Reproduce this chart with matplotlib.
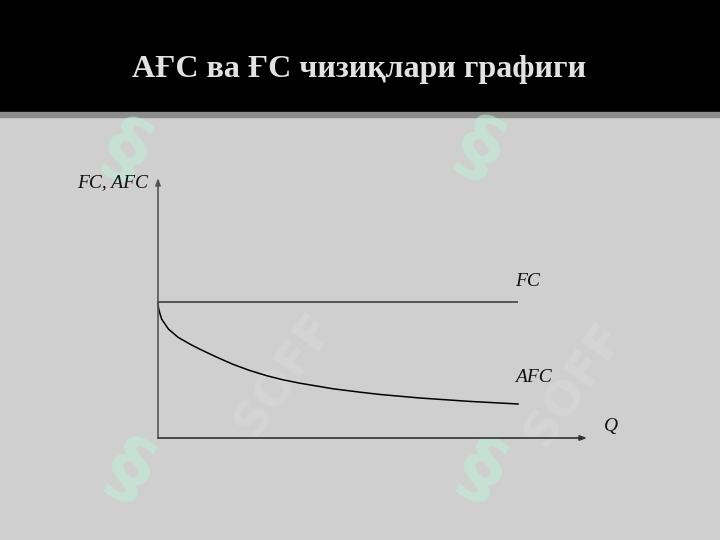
import matplotlib.pyplot as plt

# AFC / FC diagram values (Q units, cost units)
q_fc = [0, 10]
fc = [10, 10]
q_afc = [0, 0.008, 0.03, 0.10, 0.29, 0.56, 0.89, 1.17, 1.61, 2.08, 2.53, 3.02,
         3.47, 3.94, 4.86, 5.61, 6.17, 7.28, 8.67, 10]
afc = [10, 9.67, 9.36, 8.75, 8.01, 7.40, 6.90, 6.52, 5.97, 5.42, 4.98, 4.58,
       4.28, 4.03, 3.62, 3.37, 3.20, 2.94, 2.69, 2.50]

title = "АҒС ва ҒС чизиқлари графиги"
ylabel = "FC, AFC"
xlabel = "Q"

W, H = 720, 540
fig = plt.figure(figsize=(7.2, 5.4), dpi=100)
fig.patch.set_facecolor("#cfcfcf")

# background layer in pixel coordinates
bg = fig.add_axes([0, 0, 1, 1])
bg.set_xlim(0, W)
bg.set_ylim(H, 0)
bg.axis("off")
bg.add_patch(plt.Rectangle((0, 0), W, 112, color="black", zorder=1))
bg.add_patch(plt.Rectangle((0, 112), W, 5, color="#8c8c8c", zorder=1))
bg.text(359, 70, title, color="#e2e2e2", fontsize=23, fontweight="bold",
        family="Liberation Serif", ha="center", va="center", zorder=3)

# faint watermarks
for x, y in [(125, 152), (478, 150), (128, 472), (480, 472)]:
    bg.text(x, y, "§", color="#bff0da", alpha=0.55, fontsize=58, fontweight="bold",
            family="DejaVu Sans", ha="center", va="center", rotation=-25, zorder=2)
for x, y in [(285, 375), (575, 385)]:
    bg.text(x, y, "SOFF", color="white", alpha=0.12, fontsize=34, fontweight="bold",
            family="DejaVu Sans", ha="center", va="center", rotation=55, zorder=2)

# chart axes: x 158..587 px, y 180..438 px
ux, uy = 36.0, 13.6
x0, y0 = 158, 438
ax = fig.add_axes([x0 / W, 1 - y0 / H, (587 - x0) / W, (y0 - 180) / H])
ax.set_xlim(0, (587 - x0) / ux)
ax.set_ylim(0, (y0 - 180) / uy)
ax.axis("off")
ax.patch.set_alpha(0)

xmax = (587 - x0) / ux
ymax = (y0 - 178) / uy
ax.annotate("", xy=(0, ymax), xytext=(0, 0),
            arrowprops=dict(arrowstyle="-|>,head_length=0.4,head_width=0.15",
                            color="#555555", lw=1.2, shrinkA=0, shrinkB=0),
            annotation_clip=False)
ax.annotate("", xy=(xmax, 0), xytext=(0, 0),
            arrowprops=dict(arrowstyle="-|>,head_length=0.4,head_width=0.15",
                            color="#333333", lw=1.2, shrinkA=0, shrinkB=0),
            annotation_clip=False)

ax.plot(q_fc, fc, color="#555555", lw=1.4, solid_capstyle="butt", clip_on=False)
ax.plot(q_afc, afc, color="black", lw=1.1, clip_on=False, solid_joinstyle="round")

lab = dict(family="Liberation Serif", style="italic", fontsize=14, color="#111111")
bg.text(148, 183, ylabel, ha="right", va="center", **lab)
bg.text(515, 282, "FC", ha="left", va="center", **lab)
bg.text(515, 378, "AFC", ha="left", va="center", **lab)
bg.text(604, 426, xlabel, ha="left", va="center", **lab)

fig.savefig("out.png", dpi=100, facecolor=fig.get_facecolor())
